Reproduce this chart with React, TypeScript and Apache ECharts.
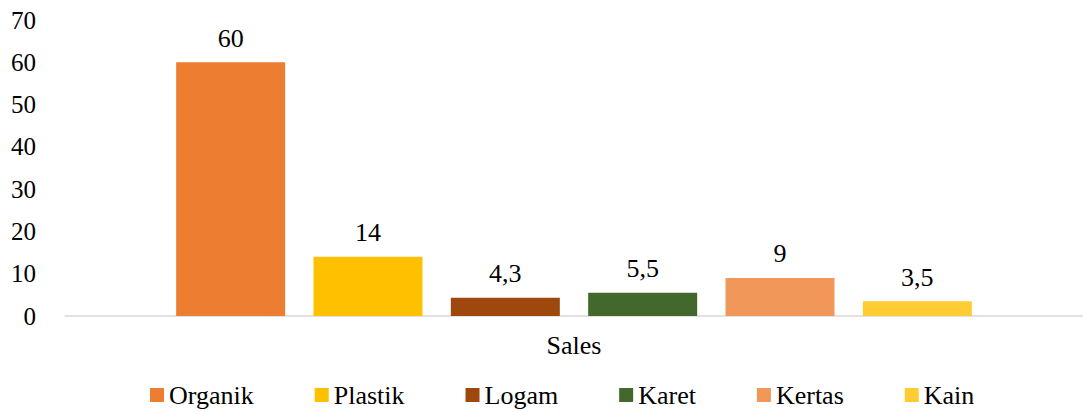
import React, { useEffect, useRef } from "react";
import * as echarts from "echarts";

const categories = ["Sales"];
const seriesNames = ["Organik", "Plastik", "Logam", "Karet", "Kertas", "Kain"];
const seriesValues = [60, 14, 4.3, 5.5, 9, 3.5];
const seriesColors = ["#ED7D31", "#FFC000", "#9E480E", "#43682B", "#F1975A", "#FFCD33"];
const yTicks = { min: 0, max: 70, interval: 10 };

const FONT = "Liberation Serif";
const FS = 25;

export default function App() {
  const ref = useRef<HTMLDivElement>(null);
  useEffect(() => {
    if (!ref.current) return;
    const chart = echarts.init(ref.current, undefined, { renderer: "svg" });
    chart.setOption({
      animation: false,
      textStyle: { fontFamily: FONT, fontSize: FS },
      grid: { left: 65, right: 0, top: 20, bottom: 96, containLabel: false },
      legend: {
        data: seriesNames,
        top: 377,
        left: 145,
        padding: 5,
        itemWidth: 14,
        itemHeight: 14,
        itemGap: 61,
        icon: "rect",
        textStyle: { fontFamily: FONT, fontSize: 26, color: "#000" },
      },
      xAxis: {
        type: "category",
        data: categories,
        axisLine: { show: true, lineStyle: { color: "#D9D9D9", width: 1.5 } },
        axisTick: { show: false },
        axisLabel: { fontFamily: FONT, fontSize: 26, color: "#000", margin: 16 },
      },
      yAxis: {
        type: "value",
        min: yTicks.min,
        max: yTicks.max,
        interval: yTicks.interval,
        axisLine: { show: false },
        axisTick: { show: false },
        splitLine: { show: false },
        axisLabel: { fontFamily: FONT, fontSize: FS, color: "#000", margin: 29 },
      },
      series: seriesNames.map((name, i) => ({
        name,
        type: "bar",
        data: [seriesValues[i]],
        barWidth: 109,
        barGap: "26%",
        itemStyle: { color: seriesColors[i] },
        label: {
          show: true,
          position: "top",
          distance: 11,
          fontFamily: FONT,
          fontSize: 26,
          color: "#000",
          formatter: (p: any) => String(p.value).replace(".", ","),
        },
      })),
    });
    return () => chart.dispose();
  }, []);
  return (
    <div
      ref={ref}
      style={{ position: "fixed", left: 0, top: 0, width: 1083, height: 412, background: "#fff" }}
    />
  );
}
